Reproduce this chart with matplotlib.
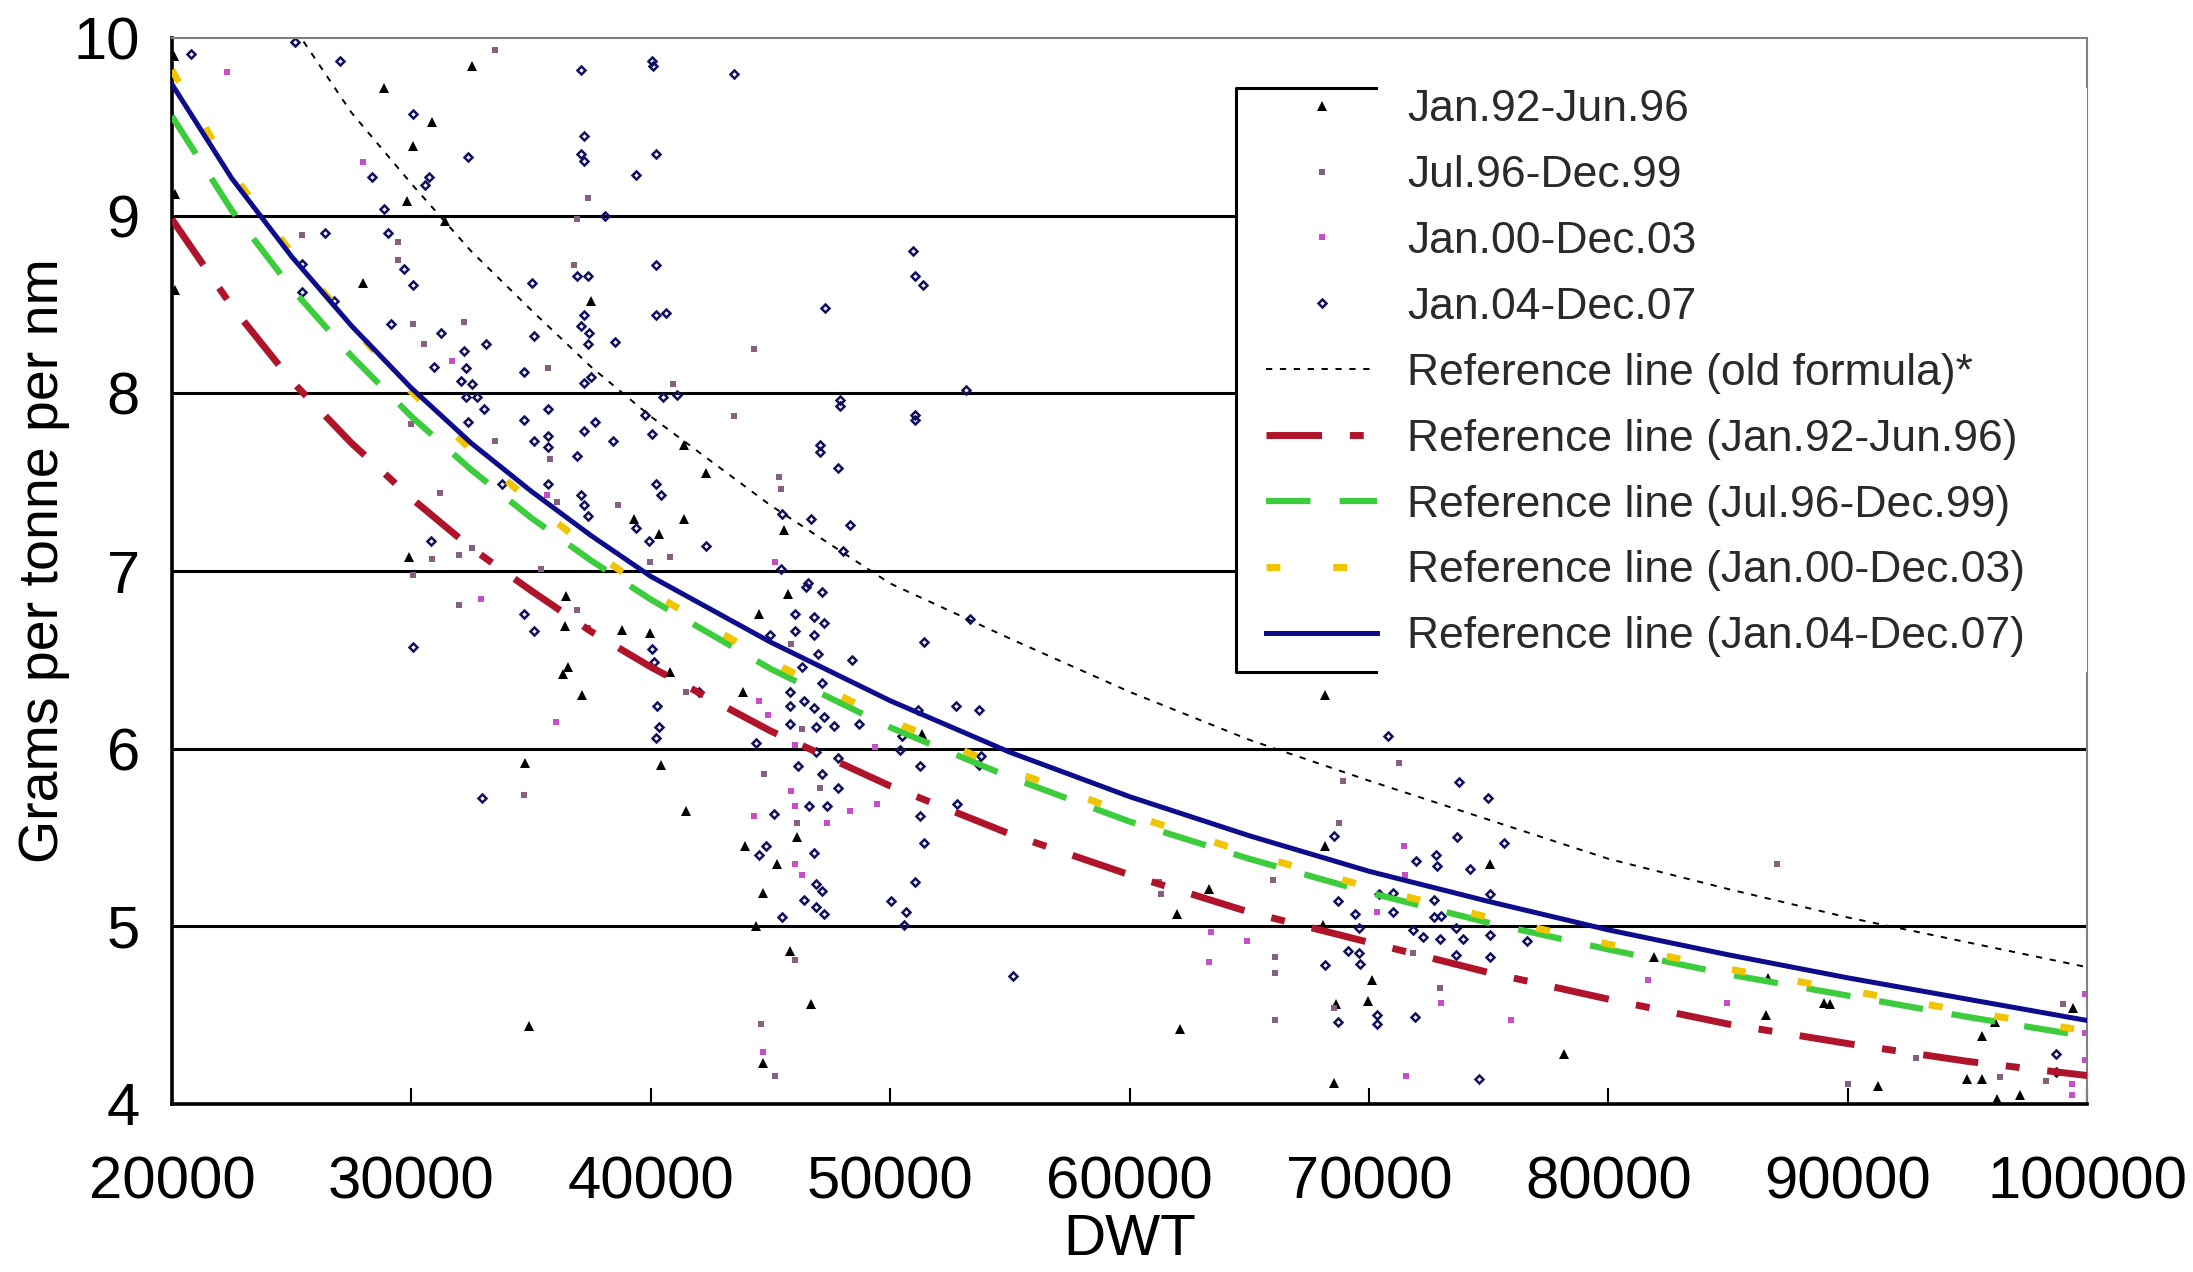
import matplotlib
matplotlib.use("Agg")
import matplotlib.pyplot as plt
from matplotlib.patches import Rectangle
from matplotlib.lines import Line2D

plt.rcParams['font.family'] = ['Liberation Sans', 'DejaVu Sans']
plt.rcParams['lines.scale_dashes'] = False

# reference lines
dwt_grid = [20000, 22500, 25000, 27500, 30000, 32500, 35000, 37500, 40000, 45000,
            50000, 55000, 60000, 65000, 70000, 75000, 80000, 85000, 90000, 95000, 100000]
ref_92_96 = [8.98, 8.49, 8.07, 7.72, 7.41, 7.13, 6.89, 6.66, 6.46, 6.10,
             5.79, 5.52, 5.29, 5.08, 4.91, 4.74, 4.59, 4.45, 4.34, 4.24, 4.16]
ref_96_99 = [9.56, 9.03, 8.59, 8.21, 7.87, 7.57, 7.30, 7.06, 6.84, 6.45,
             6.12, 5.84, 5.59, 5.38, 5.19, 5.02, 4.87, 4.73, 4.61, 4.49, 4.38]
ref_00_03 = [9.82, 9.24, 8.79, 8.38, 8.01, 7.68, 7.39, 7.12, 6.88, 6.49,
             6.16, 5.88, 5.63, 5.41, 5.22, 5.05, 4.90, 4.76, 4.64, 4.52, 4.41]
ref_04_07 = [9.74, 9.21, 8.77, 8.38, 8.03, 7.72, 7.45, 7.20, 6.97, 6.60,
             6.27, 5.98, 5.73, 5.51, 5.31, 5.14, 4.98, 4.84, 4.71, 4.59, 4.47]

old_dwt = [25500, 27500, 30000, 32500, 35000, 37500, 40000, 45000, 50000, 55000,
           60000, 65000, 70000, 75000, 80000, 85000, 90000, 95000, 100000]
old_ref = [9.98, 9.58, 9.18, 8.80, 8.47, 8.15, 7.87, 7.37, 6.93, 6.62,
           6.32, 6.05, 5.82, 5.60, 5.38, 5.21, 5.05, 4.91, 4.77]

# ships, Jan.92-Jun.96
a_dwt = [20070, 28860, 30880, 30070, 29840, 31400, 32520, 27980, 20130, 20130, 41390, 42290,
         41390, 40340, 39300, 29900, 45560, 45730, 44530, 43850, 46100, 43930, 45270, 44690,
         44380, 45800, 46690, 44690, 62130, 63320, 61980, 51320, 36470, 36400, 38790, 39970,
         40800, 36540, 36330, 37150, 40430, 34760, 41470, 34910, 68180, 68180, 75040, 68100,
         70120, 68620, 69960, 78170, 68540, 86600, 86670, 81900, 88990, 89260, 95590, 96150,
         94970, 95590, 91260, 96220, 97190, 99410, 37520]
a_val = [9.90, 9.72, 9.53, 9.39, 9.08, 8.97, 9.84, 8.62, 9.12, 8.58, 7.71, 7.55,
         7.29, 7.21, 7.29, 7.08, 7.23, 6.87, 6.76, 6.32, 5.50, 5.45, 5.35, 5.19,
         5.00, 4.86, 4.56, 4.23, 4.42, 5.21, 5.07, 6.08, 6.86, 6.69, 6.67, 6.65,
         6.43, 6.46, 6.42, 6.30, 5.91, 5.92, 5.65, 4.44, 6.30, 5.45, 5.35, 5.01,
         4.70, 4.56, 4.58, 4.28, 4.12, 4.50, 4.71, 4.83, 4.57, 4.56, 4.38, 4.46,
         4.14, 4.14, 4.10, 4.03, 4.05, 4.54, 8.52]

# ships, Jul.96-Dec.99
b_dwt = [33490, 37380, 36910, 25430, 29460, 29460, 30070, 30510, 32220, 40950, 38630, 31180,
         29980, 30880, 31990, 32530, 35410, 39970, 40800, 35790, 36100, 36780, 35730, 33490,
         44310, 43490, 45360, 45430, 45870, 46320, 44750, 47070, 46100, 44600, 45190, 46020,
         61230, 61300, 66070, 66070, 66070, 66010, 30060, 31990, 36920, 37380, 41470, 34690,
         71240, 68920, 68770, 71830, 72950, 68560, 87040, 90020, 96360, 99000, 92870, 98300]
b_val = [9.93, 9.10, 8.98, 8.89, 8.85, 8.75, 8.39, 8.28, 8.40, 8.05, 7.37, 7.44,
         7.83, 7.07, 7.09, 7.13, 7.01, 7.05, 7.08, 7.63, 7.39, 8.72, 8.14, 7.73,
         8.25, 7.87, 7.53, 7.46, 6.59, 6.11, 5.86, 5.78, 5.58, 4.45, 4.16, 4.81,
         5.25, 5.18, 4.83, 4.74, 4.47, 5.26, 6.98, 6.81, 6.78, 6.68, 6.32, 5.74,
         5.92, 5.82, 5.58, 4.85, 4.65, 4.54, 5.35, 4.11, 4.15, 4.56, 4.26, 4.13]

# ships, Jan.00-Dec.03
c_dwt = [22300, 27970, 31700, 35650, 45190, 44530, 44900, 46020, 45870, 46020, 47360, 46020,
         46320, 44680, 44310, 48320, 49450, 49370, 63400, 64900, 63320, 32890, 36030, 71460,
         71500, 70330, 73010, 81670, 75930, 71540, 84950, 99350, 99370, 99900, 99900, 99900]
c_val = [9.81, 9.30, 8.18, 7.43, 7.05, 6.27, 6.19, 6.02, 5.76, 5.68, 5.58, 5.35,
         5.29, 4.29, 5.62, 5.65, 5.69, 6.01, 4.97, 4.92, 4.80, 6.84, 6.15, 5.45,
         5.29, 5.08, 4.57, 4.70, 4.47, 4.16, 4.57, 4.11, 4.05, 4.62, 4.40, 4.25]

# ships, Jan.04-Dec.07
d_dwt = [20810, 25140, 27000, 30070, 28350, 30740, 30570, 37070, 37070, 37200, 38110, 40050,
         40100, 40200, 39380, 29690, 30070, 29150, 31240, 30950, 32280, 32070, 32530, 32300,
         32740, 33030, 32370, 35060, 36910, 37380, 37210, 37070, 37440, 37380, 37520, 37210,
         38490, 37670, 35730, 35730, 34690, 35130, 35730, 36910, 38420, 39760, 40510, 41090,
         40200, 40200, 40200, 40430, 39910, 37070, 37210, 37380, 39380, 35730, 33790, 30810,
         25430, 25430, 26770, 43490, 51020, 51390, 47890, 47890, 51020, 51020, 47070, 47070,
         47820, 45500, 46690, 48320, 48040, 45430, 46550, 46470, 46020, 46840, 47220, 44980,
         46020, 46840, 46980, 48400, 46320, 47140, 45800, 46400, 45800, 46840, 47220, 45800,
         46900, 47650, 48700, 44380, 46900, 50490, 50410, 51160, 52740, 53710, 53330, 53780,
         53710, 51240, 47820, 46170, 47140, 47820, 47360, 46610, 45130, 51240, 52810, 51400,
         44830, 44530, 46840, 46900, 47140, 46400, 46900, 47220, 45500, 51020, 50050, 50650,
         50580, 55120, 30060, 34690, 35130, 40050, 40130, 42000, 40280, 40340, 40200, 32970,
         73750, 68540, 73700, 71960, 72790, 72850, 74220, 75640, 70420, 71000, 68700, 72710,
         69440, 71000, 72710, 76600, 71830, 72280, 72950, 73620, 73920, 69580, 69580, 69620,
         69140, 73620, 70330, 70350, 68700, 71910, 74600, 98720, 98690,
         28860, 32370, 37210, 26390, 29020, 32220, 33120, 34690, 35130, 37210, 40050, 40640,
         42290, 50950, 47290, 53180, 47140, 51400, 70790, 74970, 75040, 75040, 68180, 73000, 75040]
d_val = [9.91, 9.98, 9.87, 9.57, 9.22, 9.22, 9.17, 9.82, 9.35, 9.31, 9.00, 9.87,
         9.84, 9.35, 9.23, 8.70, 8.61, 8.39, 8.34, 8.15, 8.14, 8.07, 8.05, 7.98,
         7.98, 7.91, 7.84, 8.62, 8.66, 8.66, 8.44, 8.38, 8.34, 8.28, 8.09, 8.06,
         8.29, 7.84, 7.91, 7.76, 7.85, 7.73, 7.70, 7.65, 7.73, 7.88, 7.98, 7.99,
         8.44, 8.72, 7.49, 7.43, 7.17, 7.43, 7.37, 7.31, 7.24, 7.49, 7.49, 7.17,
         8.73, 8.57, 8.52, 9.80, 8.66, 8.61, 7.96, 7.93, 7.88, 7.85, 7.71, 7.67,
         7.58, 7.32, 7.29, 7.26, 7.11, 7.01, 6.93, 6.91, 6.76, 6.74, 6.71, 6.64,
         6.66, 6.64, 6.53, 6.50, 6.46, 6.37, 6.32, 6.27, 6.24, 6.23, 6.18, 6.14,
         6.12, 6.13, 6.14, 6.03, 5.98, 6.07, 5.99, 6.22, 6.24, 6.22, 6.73, 5.96,
         5.91, 5.90, 5.95, 5.90, 5.86, 5.78, 5.68, 5.68, 5.63, 5.62, 5.69, 5.47,
         5.45, 5.40, 5.41, 5.24, 5.20, 5.15, 5.11, 5.07, 5.05, 5.25, 5.14, 5.08,
         5.01, 4.72, 6.57, 6.76, 6.66, 6.56, 6.49, 6.32, 6.24, 6.12, 6.06, 5.72,
         5.81, 5.51, 5.50, 5.37, 5.40, 5.34, 5.32, 5.47, 5.18, 5.19, 5.14, 5.15,
         5.07, 5.08, 5.05, 4.92, 4.98, 4.94, 4.93, 4.99, 4.93, 4.99, 4.85, 4.79,
         4.86, 4.84, 4.50, 4.45, 4.46, 4.49, 4.14, 4.28, 4.18,
         9.04, 9.33, 9.45, 8.90, 8.90, 8.24, 8.28, 8.12, 8.32, 7.79, 7.77, 8.45,
         7.14, 8.80, 8.48, 8.02, 6.88, 6.60, 6.07, 5.72, 5.18, 4.95, 4.78, 5.06, 4.83]

x_ticks = [20000, 30000, 40000, 50000, 60000, 70000, 80000, 90000, 100000]
y_ticks = [4, 5, 6, 7, 8, 9, 10]

fig = plt.figure(figsize=(21.93, 12.72), dpi=100)
ax = fig.add_axes([0.0784, 0.1321, 0.8733, 0.838])

# scatter of ships
ax.plot(a_dwt, a_val, linestyle='none', marker='^', ms=6.5, color='black', mew=0,
        label='Jan.92-Jun.96', zorder=2)
ax.plot(b_dwt, b_val, linestyle='none', marker='s', ms=4, color='#86607e', mew=0,
        label='Jul.96-Dec.99', zorder=2)
ax.plot(c_dwt, c_val, linestyle='none', marker='s', ms=4, color='#c84ec8', mew=0,
        label='Jan.00-Dec.03', zorder=2)
ax.plot(d_dwt, d_val, linestyle='none', marker='D', ms=4.5, mfc='none', mec='#10105e', mew=1.8,
        label='Jan.04-Dec.07', zorder=2)

# reference lines
ax.plot(old_dwt, old_ref, color='black', lw=1.4, dashes=(4.5, 5.5),
        label='Reference line (old formula)*', zorder=3)
ax.plot(dwt_grid, ref_92_96, color='#b0142a', lw=5, dashes=(40, 20, 10, 20),
        label='Reference line (Jan.92-Jun.96)', zorder=3)
ax.plot(dwt_grid, ref_96_99, color='#3ccc3c', lw=4.5, dashes=(32, 21),
        label='Reference line (Jul.96-Dec.99)', zorder=3)
ax.plot(dwt_grid, ref_00_03, color='#f0c400', lw=5, dashes=(10, 38),
        label='Reference line (Jan.00-Dec.03)', zorder=3)
ax.plot(dwt_grid, ref_04_07, color='#0c0c8c', lw=3.6,
        label='Reference line (Jan.04-Dec.07)', zorder=3)

ax.set_xlim(20000, 100000)
ax.set_ylim(4, 10)
ax.set_xticks(x_ticks)
ax.set_yticks(y_ticks)
ax.set_xticklabels([str(v) for v in x_ticks])
ax.tick_params(axis='x', direction='in', length=11.5, width=1.5, pad=37, labelsize=43)
ax.tick_params(axis='y', length=0, pad=23, labelsize=43)

ax.set_axisbelow(True)
ax.yaxis.grid(True, color='black', lw=2.2)
ax.yaxis.get_gridlines()[-1].set_visible(False)

for side in ['left', 'bottom']:
    ax.spines[side].set_linewidth(2.6)
    ax.spines[side].set_color('black')
for side in ['top', 'right']:
    ax.spines[side].set_linewidth(1.5)
    ax.spines[side].set_color('#808080')

ax.set_xlabel('DWT', fontsize=42, labelpad=2)
ax.set_ylabel('Grams per tonne per nm', fontsize=40)
ax.yaxis.set_label_coords(-0.053, 0.51)

# legend: white panel, frame drawn only around the symbols
ax.add_patch(Rectangle((0.5556, 0.405), 0.4444, 0.548, transform=ax.transAxes,
                       facecolor='white', edgecolor='none', zorder=4))
frame_kw = dict(transform=ax.transAxes, color='black', lw=2.2, zorder=6, clip_on=False)
ax.add_line(Line2D([0.6287, 0.5556, 0.5556, 0.6287], [0.953, 0.953, 0.405, 0.405], **frame_kw))

leg = ax.legend(loc='upper left', bbox_to_anchor=(0.5713, 0.952), frameon=False,
                fontsize=32, handlelength=2.5, handletextpad=0.68, borderpad=0,
                borderaxespad=0, labelspacing=0.56, numpoints=1)
leg.set_zorder(5)
for t in leg.get_texts():
    t.set_color('#2a2a2a')

fig.savefig('out.png', dpi=100)
